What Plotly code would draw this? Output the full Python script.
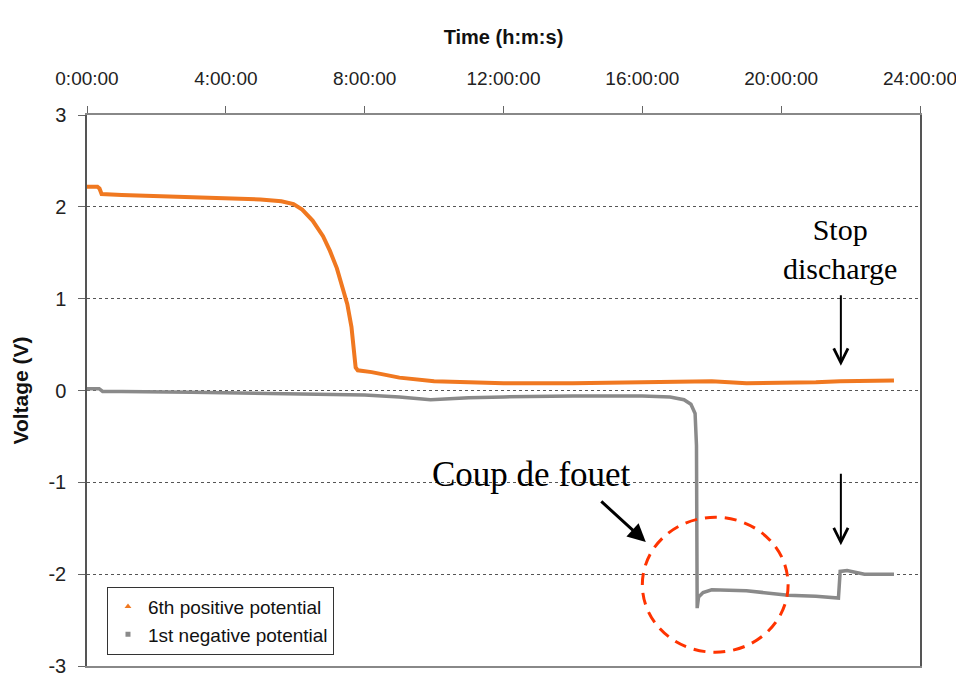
import plotly.graph_objects as go

# time in hours, voltages in V
pos_time = [0, 0.3, 0.36, 0.42, 1, 2, 3, 4, 5, 5.6, 5.95, 6.2, 6.5, 6.8, 7.0, 7.2, 7.35,
            7.5, 7.62, 7.7, 7.74, 7.8, 8.2, 9, 10, 11, 12, 14, 16, 17, 18, 19, 20, 21,
            21.7, 22.5, 23.25]
pos_volt = [2.22, 2.22, 2.2, 2.14, 2.13, 2.12, 2.11, 2.1, 2.08, 2.06, 2.03, 1.97, 1.85,
            1.68, 1.52, 1.33, 1.15, 0.94, 0.69, 0.4, 0.25, 0.22, 0.2, 0.14, 0.1, 0.09,
            0.08, 0.08, 0.09, 0.1, 0.1, 0.08, 0.08, 0.09, 0.1, 0.1, 0.11]

neg_time = [0, 0.35, 0.45, 1, 3, 5, 7, 8, 9, 9.9, 11, 12, 14, 16, 16.8, 17.2, 17.4,
            17.52, 17.56, 17.58, 17.62, 17.75, 18.0, 19.0, 20.2, 21.0, 21.65, 21.7,
            21.9, 22.4, 23.25]
neg_volt = [0.02, 0.02, -0.01, -0.01, -0.02, -0.03, -0.04, -0.05, -0.07, -0.1, -0.08,
            -0.07, -0.06, -0.06, -0.07, -0.1, -0.15, -0.25, -0.6, -2.37, -2.25, -2.2,
            -2.17, -2.18, -2.23, -2.24, -2.26, -1.97, -1.96, -2.0, -2.0]

x_ticks = [0, 4, 8, 12, 16, 20, 24]
x_labels = ["0:00:00", "4:00:00", "8:00:00", "12:00:00", "16:00:00", "20:00:00", "24:00:00"]
y_ticks = [-3, -2, -1, 0, 1, 2, 3]
y_labels = ["-3", "-2", "-1", "0", "1", "2", "3"]

ORANGE = "#F07820"
GREY = "#8A8A8A"
SANS = "Arial, Liberation Sans, sans-serif"
SERIF = "Times New Roman, Liberation Serif, serif"

fig = go.Figure()
fig.add_trace(go.Scatter(x=pos_time, y=pos_volt, mode="lines",
                         line=dict(color=ORANGE, width=4), showlegend=False))
fig.add_trace(go.Scatter(x=neg_time, y=neg_volt, mode="lines",
                         line=dict(color=GREY, width=3.5), showlegend=False))

# legend entries show only a small marker, like the original
fig.add_trace(go.Scatter(x=[None], y=[None], mode="markers", name="6th positive potential",
                         marker=dict(symbol="triangle-up", size=6, color=ORANGE)))
fig.add_trace(go.Scatter(x=[None], y=[None], mode="markers", name="1st negative potential",
                         marker=dict(symbol="square", size=5, color=GREY)))

# dashed circle around the coup de fouet
fig.add_shape(type="circle", xref="x", yref="y", x0=16.0, x1=20.2, y0=-2.85, y1=-1.38,
              line=dict(color="#FF3300", width=3, dash="12px,8px"))

fig.add_annotation(x=12.82, y=-0.92, text="Coup de fouet", showarrow=False,
                   font=dict(family=SERIF, size=35, color="black"))
fig.add_annotation(x=16.1, y=-1.65, ax=-46, ay=-42, text="", showarrow=True,
                   arrowhead=2, arrowwidth=3, arrowsize=1.2, arrowcolor="black")
fig.add_annotation(x=21.69, y=1.54, text="Stop<br>discharge", showarrow=False,
                   font=dict(family=SERIF, size=30, color="black"))
fig.add_annotation(x=21.72, y=0.27, ax=0, ay=-72, text="", showarrow=True,
                   arrowhead=5, arrowwidth=2, arrowsize=1.4, arrowcolor="black")
fig.add_annotation(x=21.72, y=-1.685, ax=0, ay=-73, text="", showarrow=True,
                   arrowhead=5, arrowwidth=2, arrowsize=1.4, arrowcolor="black")

# the page body adds an 8px offset, so the figure is made 8px smaller to fit
fig.update_layout(
    width=956, height=665,
    paper_bgcolor="white", plot_bgcolor="white",
    margin=dict(l=79, r=44, t=107, b=7),
    font=dict(family=SANS, size=20, color="#222"),
    legend=dict(x=0.024, y=0.144, xanchor="left", yanchor="top",
                bgcolor="white", bordercolor="#333", borderwidth=1,
                font=dict(family=SANS, size=19, color="#111")),
)
fig.update_xaxes(
    side="top", range=[0, 24], tickvals=x_ticks, ticktext=x_labels, automargin=False,
    ticks="outside", ticklen=7, tickcolor="#666", ticklabelstandoff=14,
    ticklabeloverflow="allow", tickfont=dict(size=19),
    showline=True, mirror=True, linecolor="#888", linewidth=1.5,
    showgrid=False, zeroline=False,
    title=dict(text="<b>Time (h:m:s)</b>", font=dict(size=20, color="#111"), standoff=18),
)
fig.update_yaxes(
    range=[-3, 3], tickvals=y_ticks, ticktext=y_labels, automargin=False,
    ticks="outside", ticklen=7, tickcolor="#666", ticklabelstandoff=8,
    ticklabeloverflow="allow",
    showline=True, mirror=True, linecolor="#555", linewidth=1.5,
    showgrid=True, gridcolor="#555", griddash="dot", gridwidth=1, zeroline=False,
    title=dict(text="<b>Voltage (V)</b>", font=dict(size=21, color="#111"), standoff=14),
)

fig.write_html("out.html")
